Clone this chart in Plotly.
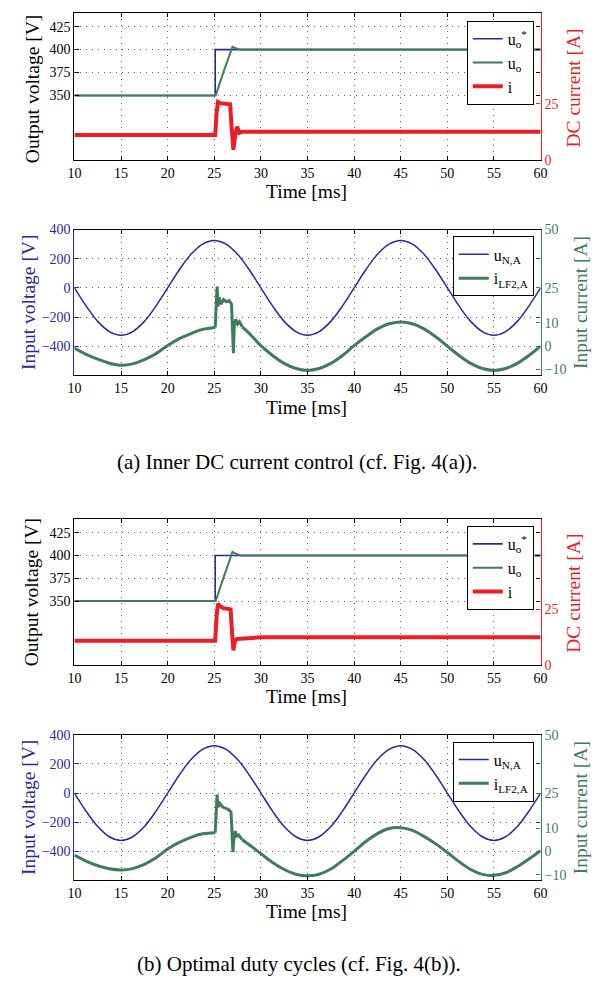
import plotly.graph_objects as go

W, H = 616, 984
FONT = "Liberation Serif, Times New Roman, serif"
BLUE = "#2a2a96"
GREEN = "#3f7d5a"
RED = "#ee1c25"
GRID = "#666666"

# ---------------- data ----------------
x_tickvals = [10, 15, 20, 25, 30, 35, 40, 45, 50, 55, 60]

# (a) output voltage / DC current
t_uref_a = [10, 25.1, 25.1, 60]
uref_a = [350, 350, 400, 400]
t_uo_a = [10, 25.15, 26.0, 26.7, 26.95, 27.3, 27.8, 60]
uo_a = [350, 350, 376, 397, 403, 401.5, 400, 400]
t_idc_a = [10, 25.1, 25.25, 25.4, 25.6, 26.0, 26.4, 26.7, 26.85, 27.05, 27.25, 27.45, 27.7, 28.0, 30, 60]
idc_a = [11.0, 11.0, 21, 25.8, 25.3, 25.2, 25.0, 24.8, 15, 4.4, 11, 14.7, 12.0, 12.5, 12.5, 12.5]

# (b) output voltage / DC current
t_uref_b = [10, 25.1, 25.1, 60]
uref_b = [350, 350, 400, 400]
t_uo_b = [10, 25.15, 26.0, 26.7, 26.95, 27.3, 27.8, 60]
uo_b = [350, 350, 376, 398, 404, 402, 400, 400]
t_idc_b = [10, 25.1, 25.25, 25.4, 25.6, 26.0, 26.4, 26.75, 26.9, 27.05, 27.2, 27.4, 27.8, 28.5, 30, 60]
idc_b = [10.9, 10.9, 22, 27.5, 26.5, 25.5, 25.3, 25.0, 15, 6.5, 10.5, 11.6, 11.8, 12.1, 12.4, 12.4]

# input voltage (both cases), sampled every 1.25 ms
t_grid = [10 + 1.25 * k for k in range(41)]
uN_a = [0, -124, -230, -300, -325, -300, -230, -124, 0, 124, 230, 300, 325, 300, 230, 124,
        0, -124, -230, -300, -325, -300, -230, -124, 0, 124, 230, 300, 325, 300, 230, 124,
        0, -124, -230, -300, -325, -300, -230, -124, 0]
uN_b = [0, -124, -230, -300, -325, -300, -230, -124, 0, 124, 230, 300, 325, 300, 230, 124,
        0, -124, -230, -300, -325, -300, -230, -124, 0, 124, 230, 300, 325, 300, 230, 124,
        0, -124, -230, -300, -325, -300, -230, -124, 0]

# input current (a)
t_iL_pre_a = [10, 11.25, 12.5, 13.75, 15, 16.25, 17.5, 18.75, 20, 21.25, 22.5, 23.75, 25.1]
iL_pre_a = [-0.8, -3.5, -5.6, -7.3, -8.2, -7.6, -5.8, -3.2, 0.3, 3.2, 5.4, 7.2, 8.0]
t_iL_tr_a = [25.1, 25.2, 25.3, 25.4, 25.5, 25.7, 26.0, 26.3, 26.6, 26.85, 26.95, 27.05, 27.15, 27.3, 27.5, 27.7, 28.0]
iL_tr_a = [8.0, 19, 25.5, 17, 21, 18, 20, 19, 19.5, 18, 5, -3.0, 9, 11.5, 9.5, 10.5, 8.3]
t_iL_post_a = [28, 28.75, 30, 31.25, 32.5, 33.75, 35, 36.25, 37.5, 38.75, 40, 41.25, 42.5, 43.75,
               45, 46.25, 47.5, 48.75, 50, 51.25, 52.5, 53.75, 55, 56.25, 57.5, 58.75, 60]
iL_post_a = [8.3, 5.5, 0.2, -4.0, -7.4, -9.6, -10.4, -9.6, -7.4, -4.0, 0.2, 4.0, 7.4, 9.6,
             10.4, 9.6, 7.4, 4.0, 0, -4.0, -7.4, -9.6, -10.4, -9.6, -7.4, -4.0, 0]

# input current (b)
t_iL_pre_b = [10, 11.25, 12.5, 13.75, 15, 16.25, 17.5, 18.75, 20, 21.25, 22.5, 23.75, 25.1]
iL_pre_b = [-1.6, -4.2, -6.2, -7.5, -8.0, -7.4, -5.6, -2.8, 1.0, 3.8, 6.0, 7.5, 8.0]
t_iL_tr_b = [25.1, 25.2, 25.3, 25.4, 25.6, 25.9, 26.2, 26.5, 26.8, 26.9, 27.0, 27.1, 27.25, 27.4, 27.6, 28.0]
iL_tr_b = [8.0, 18, 24.3, 19, 20.5, 19, 18.5, 18, 16.8, 6, -0.4, 6, 8.7, 6.5, 7, 5.0]
t_iL_post_b = [28, 28.75, 30, 31.25, 32.5, 33.75, 35, 36.25, 37.5, 38.75, 40, 41.25, 42.5, 43.75,
               45, 46.25, 47.5, 48.75, 50, 51.25, 52.5, 53.75, 55, 56.25, 57.5, 58.75, 60]
iL_post_b = [5.0, 2.8, -1.0, -4.8, -7.8, -9.8, -10.5, -9.8, -7.6, -4.0, 0, 4.2, 7.6, 9.8,
             10.1, 9.0, 6.4, 3.2, -0.5, -4.4, -7.8, -9.9, -10.3, -9.2, -6.6, -3.3, 0.3]

# ---------------- helpers ----------------
def px_x(p):
    return p / W

def px_y(p):
    return 1 - p / H

XL, XR = 69, 546
panels = [(6, 155), (226, 374), (520, 668), (739, 887)]

fig = go.Figure()

def add(x, y, ax, ay, color, width, name, legend, showlegend=True, shape="linear", group=None):
    fig.add_trace(go.Scatter(
        x=x, y=y, xaxis=ax, yaxis=ay, mode="lines", name=name,
        line=dict(color=color, width=width, shape=shape, smoothing=1.0),
        legend=legend, showlegend=showlegend, legendgroup=group,
    ))

# panel 1
add(t_uref_a, uref_a, "x", "y", BLUE, 1.6, "u<sub>o</sub><sup>*</sup>", "legend")
add(t_uo_a, uo_a, "x", "y", GREEN, 2.0, "u<sub>o</sub>", "legend")
add(t_idc_a, idc_a, "x", "y2", RED, 4.0, "i", "legend")
# panel 2
add(t_grid, uN_a, "x2", "y3", BLUE, 1.5, "u<sub>N,A</sub>", "legend2", shape="spline")
add(t_iL_pre_a, iL_pre_a, "x2", "y4", GREEN, 3.0, "i<sub>LF2,A</sub>", "legend2", shape="spline", group="ia")
add(t_iL_tr_a, iL_tr_a, "x2", "y4", GREEN, 3.0, "i<sub>LF2,A</sub>", "legend2", showlegend=False, group="ia")
add(t_iL_post_a, iL_post_a, "x2", "y4", GREEN, 3.0, "i<sub>LF2,A</sub>", "legend2", showlegend=False, shape="spline", group="ia")
# panel 3
add(t_uref_b, uref_b, "x3", "y5", BLUE, 1.6, "u<sub>o</sub><sup>*</sup>", "legend3")
add(t_uo_b, uo_b, "x3", "y5", GREEN, 2.0, "u<sub>o</sub>", "legend3")
add(t_idc_b, idc_b, "x3", "y6", RED, 4.0, "i", "legend3")
# panel 4
add(t_grid, uN_b, "x4", "y7", BLUE, 1.5, "u<sub>N,A</sub>", "legend4", shape="spline")
add(t_iL_pre_b, iL_pre_b, "x4", "y8", GREEN, 3.0, "i<sub>LF2,A</sub>", "legend4", shape="spline", group="ib")
add(t_iL_tr_b, iL_tr_b, "x4", "y8", GREEN, 3.0, "i<sub>LF2,A</sub>", "legend4", showlegend=False, group="ib")
add(t_iL_post_b, iL_post_b, "x4", "y8", GREEN, 3.0, "i<sub>LF2,A</sub>", "legend4", showlegend=False, shape="spline", group="ib")

tickfont = dict(family=FONT, size=14, color="black")
layout = dict(
    width=W, height=H, margin=dict(l=0, r=0, t=0, b=0),
    paper_bgcolor="white", plot_bgcolor="white",
    font=dict(family=FONT, color="black"),
)

for i, (top, bot) in enumerate(panels):
    n = i + 1
    xa = "xaxis" if n == 1 else f"xaxis{n}"
    yl = 2 * n - 1
    yr = 2 * n
    yla = "yaxis" if yl == 1 else f"yaxis{yl}"
    yra = f"yaxis{yr}"
    ylid = "y" if yl == 1 else f"y{yl}"
    xid = "x" if n == 1 else f"x{n}"
    dom_y = [px_y(bot), px_y(top)]
    layout[xa] = dict(
        domain=[px_x(XL), px_x(XR)], anchor=ylid, range=[10, 60],
        tickvals=x_tickvals, ticks="inside", ticklen=4, tickcolor="black",
        showline=True, linecolor="black", linewidth=1.2, mirror="ticks",
        showgrid=True, gridcolor=GRID, griddash="1px,5px", gridwidth=1,
        zeroline=False, tickfont=tickfont,
    )
    if n in (1, 3):
        lcol, rcol = "black", RED
        lrange, rrange = [280, 440], [0, 65.7]
        lticks, rticks = [350, 375, 400, 425], [0, 25]
        lgrid = GRID
    else:
        lcol, rcol = BLUE, GREEN
        lrange, rrange = [-600, 400], [-12.5, 50]
        lticks, rticks = [-400, -200, 0, 200, 400], [-10, 0, 10, 25, 50]
        lgrid = "#5555bb"
    layout[yla] = dict(
        domain=dom_y, anchor=xid, range=lrange, tickvals=lticks,
        ticks="inside", ticklen=4, tickcolor=lcol,
        showline=True, linecolor=lcol, linewidth=1.2, mirror="ticks",
        showgrid=True, gridcolor=lgrid, griddash="1px,5px", gridwidth=1,
        zeroline=False, tickfont=dict(family=FONT, size=14, color=lcol),
    )
    layout[yra] = dict(
        overlaying=ylid, anchor=xid, side="right", range=rrange, tickvals=rticks,
        ticks="inside", ticklen=4, tickcolor=rcol,
        showline=True, linecolor=rcol, linewidth=1.2,
        showgrid=False, zeroline=False,
        tickfont=dict(family=FONT, size=14, color=rcol),
    )

leg_common = dict(
    bgcolor="white", bordercolor="black", borderwidth=1,
    font=dict(family=FONT, size=16, color="black"),
    xanchor="right", yanchor="top", tracegroupgap=0,
)
layout["legend"] = dict(x=px_x(539), y=px_y(14), **leg_common)
layout["legend2"] = dict(x=px_x(539), y=px_y(233), **leg_common)
layout["legend3"] = dict(x=px_x(539), y=px_y(527), **leg_common)
layout["legend4"] = dict(x=px_x(539), y=px_y(746), **leg_common)

ann = []
def text(x, y, s, size, color="black", angle=0):
    ann.append(dict(x=px_x(x), y=px_y(y), xref="paper", yref="paper", text=s,
                    showarrow=False, textangle=angle, xanchor="center", yanchor="middle",
                    font=dict(family=FONT, size=size, color=color)))

TS = 19.5
text(26, 83, "Output voltage [V]", TS, "black", -90)
text(580, 82, "DC current [A]", TS, RED, -90)
text(306, 187, "Time [ms]", TS)
text(22, 300, "Input voltage [V]", TS, BLUE, -90)
text(587, 300, "Input current [A]", TS, GREEN, -90)
text(306, 407, "Time [ms]", TS)
text(297, 462, "(a) Inner DC current control (cf. Fig. 4(a)).", 21)
text(26, 594, "Output voltage [V]", TS, "black", -90)
text(580, 595, "DC current [A]", TS, RED, -90)
text(306, 700, "Time [ms]", TS)
text(22, 813, "Input voltage [V]", TS, BLUE, -90)
text(587, 813, "Input current [A]", TS, GREEN, -90)
text(306, 919, "Time [ms]", TS)
text(299, 972, "(b) Optimal duty cycles (cf. Fig. 4(b)).", 21)
layout["annotations"] = ann

fig.update_layout(**layout)
fig.write_html("out.html")
